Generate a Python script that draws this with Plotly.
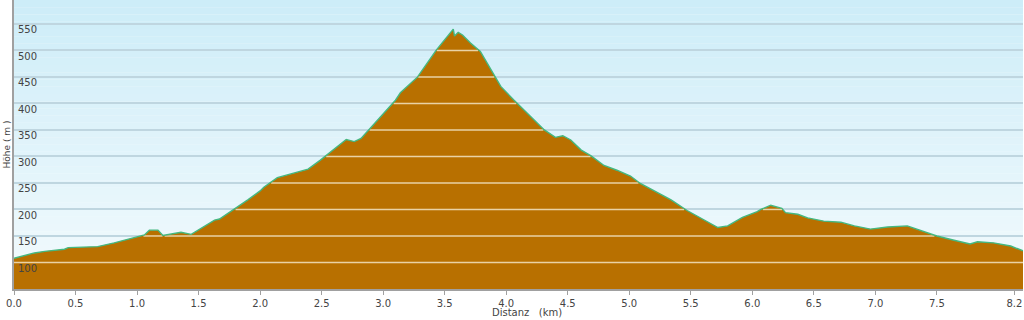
import numpy as np
import plotly.graph_objects as go

# distance (km) and elevation (m)
dist = [0.00, 0.165, 0.25, 0.41, 0.44, 0.68, 0.815, 1.06, 1.10, 1.17, 1.21, 1.357, 1.44,
        1.63, 1.67, 1.79, 1.90, 2.00, 2.03, 2.14, 2.28, 2.39, 2.49, 2.575, 2.70, 2.765,
        2.82, 2.93, 3.035, 3.10, 3.14, 3.28, 3.43, 3.52, 3.57, 3.58, 3.61, 3.645, 3.71,
        3.79, 3.86, 3.956, 4.06, 4.23, 4.31, 4.40, 4.46, 4.525, 4.61, 4.69, 4.795, 4.90,
        5.01, 5.09, 5.20, 5.34, 5.47, 5.61, 5.72, 5.80, 5.92, 6.04, 6.07, 6.15, 6.24,
        6.27, 6.37, 6.45, 6.58, 6.72, 6.83, 6.96, 7.10, 7.26, 7.37, 7.50, 7.64, 7.77,
        7.83, 7.96, 8.10, 8.20]
elev = [108, 118, 121, 125, 128, 130, 137, 152, 161, 161, 151, 157, 153,
        180, 182, 200, 218, 235, 242, 260, 269, 276, 293, 309, 332, 328,
        334, 362, 388, 406, 420, 450, 500, 526, 540, 527, 534, 529, 514,
        498, 469, 432, 407, 369, 350, 336, 339, 331, 312, 301, 283, 274,
        263, 249, 235, 218, 198, 180, 166, 169, 185, 196, 200, 208, 202,
        194, 191, 184, 178, 176, 169, 163, 167, 169, 160, 150, 142, 135,
        139, 137, 131, 122]

x_tickvals = [0.0, 0.5, 1.0, 1.5, 2.0, 2.5, 3.0, 3.5, 4.0, 4.5, 5.0, 5.5, 6.0, 6.5, 7.0, 7.5, 8.13]
x_ticktext = ["0.0", "0.5", "1.0", "1.5", "2.0", "2.5", "3.0", "3.5", "4.0", "4.5", "5.0",
              "5.5", "6.0", "6.5", "7.0", "7.5", "8.2"]
y_tickvals = [100, 150, 200, 250, 300, 350, 400, 450, 500, 550]

BROWN = "#b87000"
GREEN = "#44b880"
TAN = "#e9d2a6"
GRID = "#bfd6e0"
AXIS = "#a0a0a0"
FONT = "DejaVu Sans"

fig = go.Figure()

# terrain fill
fig.add_trace(go.Scatter(x=dist, y=elev, mode="lines", line=dict(width=0, color=BROWN),
                         fill="tozeroy", fillcolor=BROWN, hoverinfo="skip", showlegend=False))

# gridlines seen over the terrain (segments where terrain is above the grid value)
xs = np.linspace(0, max(dist), 4000)
ys = np.interp(xs, dist, elev)
for g in y_tickvals:
    mask = ys > g + 1.5
    if not mask.any():
        continue
    gx, gy = [], []
    inside = False
    for xv, m in zip(xs, mask):
        if m:
            gx.append(xv); gy.append(g); inside = True
        elif inside:
            gx.append(None); gy.append(None); inside = False
    fig.add_trace(go.Scatter(x=gx, y=gy, mode="lines", line=dict(width=1.5, color=TAN),
                             hoverinfo="skip", showlegend=False))

# elevation line
fig.add_trace(go.Scatter(x=dist, y=elev, mode="lines", line=dict(width=1.4, color=GREEN),
                         hoverinfo="skip", showlegend=False))

# sky gradient background
top = np.array([205, 237, 248])
bot = np.array([243, 250, 253])
n = 40
shapes = []
for i in range(n):
    t = i / (n - 1)
    c = top * (1 - t) + bot * t
    shapes.append(dict(type="rect", xref="paper", yref="paper", x0=0, x1=1,
                       y0=1 - (i + 1) / n, y1=1 - i / n, layer="below", line=dict(width=0),
                       fillcolor="rgb(%d,%d,%d)" % tuple(c.round().astype(int))))

fig.update_layout(
    width=1024, height=320,
    margin=dict(l=14, r=1, t=0, b=31, autoexpand=False),
    paper_bgcolor="white", plot_bgcolor="rgb(243,250,253)",
    shapes=shapes,
    font=dict(family=FONT, size=10, color="#444"),
    xaxis=dict(range=[0, 8.2], tickvals=x_tickvals, ticktext=x_ticktext, automargin=False,
               showgrid=False, zeroline=False, showline=True, linecolor=AXIS, linewidth=2,
               ticks="outside", ticklen=4, tickcolor=AXIS, ticklabeloverflow="allow",
               tickfont=dict(size=10, color="#444")),
    yaxis=dict(range=[50, 595], tickvals=y_tickvals, showgrid=True, gridcolor=GRID,
               gridwidth=1.5, zeroline=False, showline=True, linecolor=AXIS, linewidth=2,
               automargin=False, ticks="", ticklabelposition="inside", ticklabelshift=6,
               ticklabelstandoff=3, ticklabeloverflow="allow",
               tickfont=dict(size=10, color="#444")),
    annotations=[
        dict(text="Höhe\u00a0(\u00a0m\u00a0)", textangle=-90, xref="paper", yref="paper",
             x=0, y=0.5, xanchor="center", yanchor="middle", xshift=-8, showarrow=False,
             font=dict(size=9, color="#444")),
        dict(text="Distanz\u00a0\u00a0\u00a0(km)", xref="paper", yref="paper",
             x=0.508, y=0, xanchor="center", yanchor="middle", yshift=-23, showarrow=False,
             font=dict(size=10, color="#444")),
    ],
)

fig.write_html("out.html", config={"displayModeBar": False},
               post_script="document.body.style.margin='0';document.body.style.overflow='hidden';")
